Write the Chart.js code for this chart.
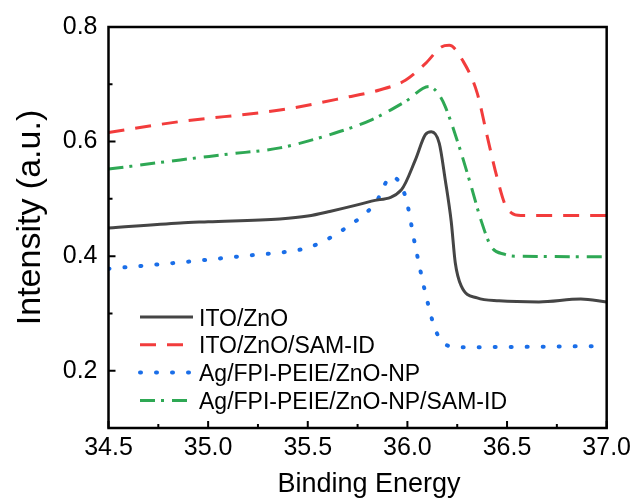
<!DOCTYPE html>
<html>
<head>
<meta charset="utf-8">
<script src="https://cdn.jsdelivr.net/npm/chart.js@4.4.1/dist/chart.umd.min.js"></script>
<style>
  html, body { margin: 0; padding: 0; background: #fff; }
  #wrap { width: 636px; height: 499px; position: relative; }
</style>
</head>
<body>
<div id="wrap"><canvas id="c" width="636" height="499"></canvas></div>
<script>
// ---- data ----
const seriesNames = ["ITO/ZnO", "ITO/ZnO/SAM-ID", "Ag/FPI-PEIE/ZnO-NP", "Ag/FPI-PEIE/ZnO-NP/SAM-ID"];

const itoX = [34.5, 34.86, 35.0, 35.36, 35.5, 35.61, 35.82, 35.97, 36.04, 36.09, 36.12, 36.16, 36.19, 36.22, 36.24, 36.27, 36.35, 36.46, 36.66, 36.87, 37.0];
const itoY = [0.449, 0.458, 0.460, 0.465, 0.470, 0.478, 0.496, 0.516, 0.568, 0.612, 0.617, 0.597, 0.533, 0.460, 0.389, 0.348, 0.327, 0.322, 0.320, 0.325, 0.320];

const samX = [34.5, 34.86, 35.36, 35.69, 35.86, 35.99, 36.09, 36.17, 36.21, 36.28, 36.35, 36.40, 36.45, 36.49, 36.52, 36.57, 36.7, 37.0];
const samY = [0.616, 0.635, 0.655, 0.677, 0.690, 0.707, 0.736, 0.765, 0.768, 0.740, 0.685, 0.610, 0.537, 0.490, 0.476, 0.471, 0.471, 0.471];

const npX = [34.5, 34.86, 35.26, 35.36, 35.52, 35.69, 35.84, 35.92, 35.99, 36.04, 36.09, 36.14, 36.19, 36.26, 37.0];
const npY = [0.378, 0.389, 0.403, 0.406, 0.417, 0.449, 0.493, 0.539, 0.504, 0.417, 0.336, 0.272, 0.246, 0.241, 0.243];

const npSamX = [34.5, 34.86, 35.1, 35.36, 35.61, 35.82, 35.99, 36.11, 36.16, 36.19, 36.26, 36.32, 36.37, 36.42, 36.49, 36.54, 37.0];
const npSamY = [0.552, 0.568, 0.578, 0.589, 0.612, 0.638, 0.670, 0.696, 0.681, 0.661, 0.591, 0.522, 0.462, 0.417, 0.403, 0.400, 0.399];

const xTicks = [34.5, 35.0, 35.5, 36.0, 36.5, 37.0];
const xMinor = [34.75, 35.25, 35.75, 36.25, 36.75];
const yTicks = [0.2, 0.4, 0.6, 0.8];
const yMinor = [0.3, 0.5, 0.7];
const xRange = [34.5, 37.0];
const yRange = [0.1, 0.8];
const xTitle = "Binding Energy";
const yTitle = "Intensity (a.u.)";

// ---- build ----
function pts(xs, ys) { return xs.map((x, i) => ({ x: x, y: ys[i] })); }

const styles = [
  { color: "#454545", dash: [], width: 3, cap: "butt" },
  { color: "#f23c3c", dash: [16, 11], width: 3, cap: "butt" },
  { color: "#1a6ee8", dash: [1, 15], width: 4, cap: "round" },
  { color: "#2ea854", dash: [15, 6, 3, 8], width: 3, cap: "butt" }
];
const allData = [pts(itoX, itoY), pts(samX, samY), pts(npX, npY), pts(npSamX, npSamY)];

const datasets = allData.map((d, i) => ({
  label: seriesNames[i],
  data: d,
  borderColor: styles[i].color,
  backgroundColor: styles[i].color,
  borderWidth: styles[i].width,
  borderDash: styles[i].dash,
  borderCapStyle: styles[i].cap,
  pointRadius: 0,
  fill: false,
  cubicInterpolationMode: "monotone"
}));

const FONT = "'Liberation Sans', Arial, sans-serif";

const decor = {
  id: "decor",
  afterDraw(chart) {
    const ctx = chart.ctx;
    const a = chart.chartArea;
    const xs = chart.scales.x, ys = chart.scales.y;
    ctx.save();
    // frame
    ctx.strokeStyle = "#000";
    ctx.lineWidth = 2.5;
    ctx.setLineDash([]);
    ctx.strokeRect(a.left, a.top, a.right - a.left, a.bottom - a.top);
    // ticks (inward)
    ctx.lineWidth = 2;
    ctx.beginPath();
    xTicks.forEach(v => { const p = xs.getPixelForValue(v); ctx.moveTo(p, a.bottom); ctx.lineTo(p, a.bottom - 7); });
    xMinor.forEach(v => { const p = xs.getPixelForValue(v); ctx.moveTo(p, a.bottom); ctx.lineTo(p, a.bottom - 4); });
    yTicks.forEach(v => { const p = ys.getPixelForValue(v); ctx.moveTo(a.left, p); ctx.lineTo(a.left + 7, p); });
    yMinor.forEach(v => { const p = ys.getPixelForValue(v); ctx.moveTo(a.left, p); ctx.lineTo(a.left + 4, p); });
    ctx.stroke();
    // axis titles
    ctx.fillStyle = "#000";
    ctx.font = "27px " + FONT;
    ctx.textAlign = "center";
    ctx.textBaseline = "alphabetic";
    ctx.fillText(xTitle, 369, 492);
    ctx.save();
    ctx.translate(40, 217.5);
    ctx.rotate(-Math.PI / 2);
    ctx.font = "34px " + FONT;
    ctx.fillText(yTitle, 0, 0);
    ctx.restore();
    // legend
    ctx.font = "23px " + FONT;
    ctx.textAlign = "left";
    chart.data.datasets.forEach((ds, i) => {
      const y = 317 + i * 27.8;
      ctx.beginPath();
      ctx.strokeStyle = ds.borderColor;
      ctx.lineWidth = ds.borderWidth;
      ctx.lineCap = ds.borderCapStyle;
      ctx.setLineDash(ds.borderDash);
      ctx.moveTo(140, y);
      ctx.lineTo(193, y);
      ctx.stroke();
      ctx.setLineDash([]);
      ctx.fillStyle = "#000";
      ctx.fillText(ds.label, 199, y + 8.5);
    });
    ctx.restore();
  }
};

new Chart(document.getElementById("c"), {
  type: "line",
  data: { datasets: datasets },
  options: {
    responsive: false,
    animation: false,
    layout: { padding: { left: 0, right: 28, top: 27, bottom: 0 } },
    plugins: { legend: { display: false }, tooltip: { enabled: false } },
    scales: {
      x: {
        type: "linear",
        min: xRange[0], max: xRange[1],
        afterBuildTicks: s => { s.ticks = xTicks.map(v => ({ value: v })); },
        afterFit: s => { s.height = 71; },
        grid: { display: false, drawTicks: false },
        border: { display: false },
        ticks: { color: "#000", font: { family: FONT, size: 25 }, padding: 5, maxRotation: 0, autoSkip: false,
                 callback: v => Number(v).toFixed(1) }
      },
      y: {
        type: "linear",
        min: yRange[0], max: yRange[1],
        afterBuildTicks: s => { s.ticks = yTicks.map(v => ({ value: v })); },
        afterFit: s => { s.width = 108.5; },
        grid: { display: false, drawTicks: false },
        border: { display: false },
        ticks: { color: "#000", font: { family: FONT, size: 25 }, padding: 11, autoSkip: false,
                 callback: v => Number(v).toFixed(1) }
      }
    }
  },
  plugins: [decor]
});
</script>
</body>
</html>
